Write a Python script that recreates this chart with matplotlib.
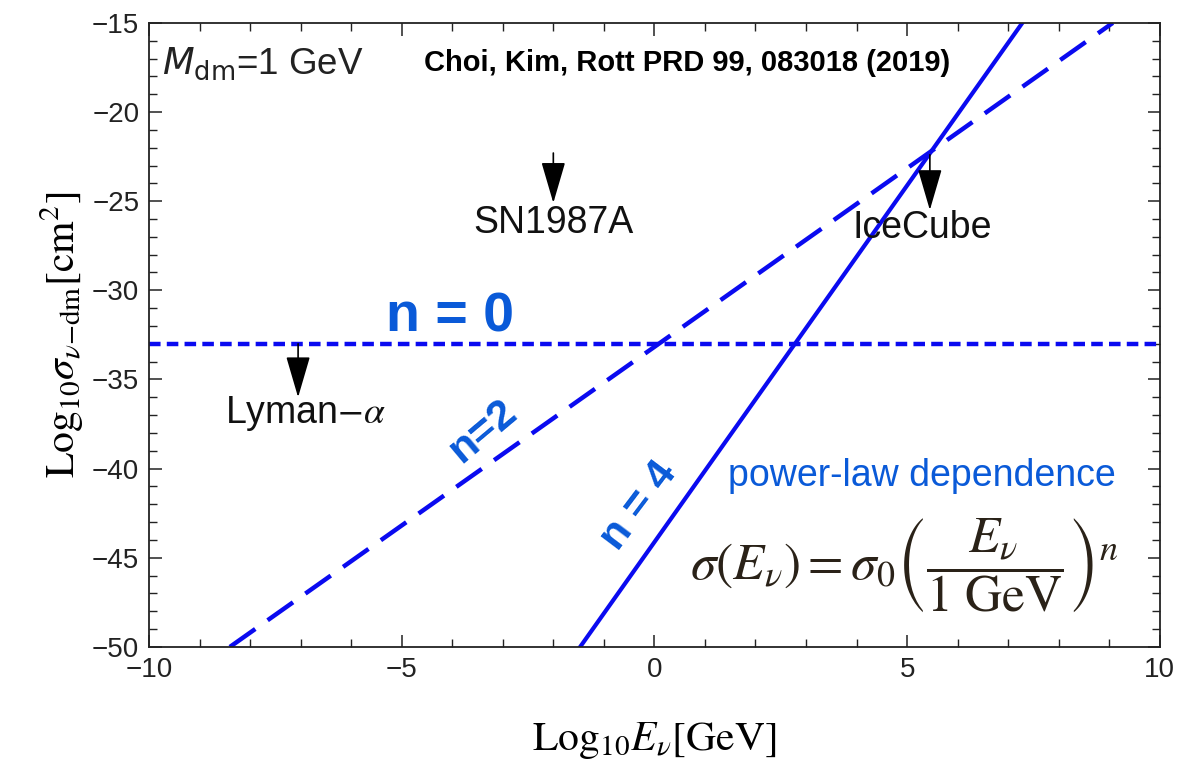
import numpy as np
import matplotlib
matplotlib.use('Agg')
import matplotlib.pyplot as plt
from matplotlib.ticker import MultipleLocator

plt.rcParams['font.family'] = ['Liberation Sans', 'DejaVu Sans']
plt.rcParams['mathtext.fontset'] = 'stix'

# log10 E [GeV] / log10 sigma [cm^2] end points of the three power laws
n0_logE = [-10.0, 10.0]
n0_logsig = [-33.0, -33.0]
n2_logE = [-8.4, 9.07]
n2_logsig = [-50.0, -15.0]
n4_logE = [-1.47, 7.28]
n4_logsig = [-50.0, -15.0]

# upper limits from observations: name, log10 E, arrow start, arrow tip, label y
limit_names = ['SN1987A', 'IceCube', 'Lyman$-\\alpha$']
limit_logE = [-2.0, 5.45, -7.05]
limit_top = [-22.3, -22.4, -33.0]
limit_tip = [-25.1, -25.5, -36.0]
limit_label_y = [-26.2, -26.5, -36.9]
limit_label_x = [-2.0, 5.3, -6.9]

fig = plt.figure(figsize=(11.92, 7.62), dpi=100)
ax = fig.add_axes([0.125, 0.151, 0.848, 0.819])

line_blue = '#0a0af0'
text_blue = '#0a5ad8'

ax.plot(n0_logE, n0_logsig, color=line_blue, lw=3.2, dashes=(2.6, 1.4), solid_capstyle='butt')
ax.plot(n2_logE, n2_logsig, color=line_blue, lw=3.2, dashes=(7, 3.4))
ax.plot(n4_logE, n4_logsig, color=line_blue, lw=3.0)

for name, x, y0, y1, ly, lx in zip(limit_names, limit_logE, limit_top, limit_tip,
                                  limit_label_y, limit_label_x):
    ax.annotate('', xy=(x, y1), xytext=(x, y0),
                arrowprops=dict(arrowstyle='-|>,head_length=1.3,head_width=0.38',
                                mutation_scale=20, color='black', lw=1.2,
                                shrinkA=0, shrinkB=0))
    ax.text(lx, ly, name, ha='center', va='center', fontsize=27, color='#111111')

ax.text(0.013, 0.935, '$\\mathit{M}_{\\mathrm{dm}}$=1 GeV', transform=ax.transAxes,
        ha='left', va='center', fontsize=26.5, color='#222222',
        math_fontfamily='dejavusans')
ax.text(0.532, 0.935, 'Choi, Kim, Rott PRD 99, 083018 (2019)', transform=ax.transAxes,
        ha='center', va='center', fontsize=21, fontweight='bold', color='black')

ax.text(-4.05, -31.5, 'n = 0', ha='center', va='center', fontsize=40,
        fontweight='bold', color=text_blue)
ax.text(-3.4, -37.9, 'n=2', ha='center', va='center', fontsize=31,
        fontweight='bold', color=text_blue, rotation=40)
ax.text(-0.3, -42.1, 'n = 4', ha='center', va='center', fontsize=31,
        fontweight='bold', color=text_blue, rotation=53)

ax.text(1.45, -40.4, 'power-law dependence', ha='left', va='center', fontsize=27,
        color=text_blue)
ax.text(4.95, -45.4,
        r'$\sigma(E_\nu) = \sigma_0\left(\dfrac{E_\nu}{1\ \mathrm{GeV}}\right)^n$',
        ha='center', va='center', fontsize=37, color='#2a2218')

ax.set_xlim(-10, 10)
ax.set_ylim(-50, -15)
ax.xaxis.set_major_locator(MultipleLocator(5))
ax.xaxis.set_minor_locator(MultipleLocator(1))
ax.yaxis.set_major_locator(MultipleLocator(5))
ax.yaxis.set_minor_locator(MultipleLocator(1))
ax.tick_params(which='both', direction='in', top=True, right=True, color='#222222',
               labelsize=20, labelcolor='#222222', pad=7)
ax.tick_params(which='major', length=9, width=1.1)
ax.tick_params(which='minor', length=5.5, width=1.0)
for s in ax.spines.values():
    s.set_linewidth(1.3)
    s.set_color('#222222')

ax.set_xlabel(r'$\mathrm{Log}_{10}E_\nu[\mathrm{GeV}]$', fontsize=30, labelpad=27)
ax.set_ylabel(r'$\mathrm{Log}_{10}\sigma_{\nu\mathrm{-dm}}[\mathrm{cm}^2]$',
              fontsize=30, labelpad=4)

fig.savefig('out.png', dpi=100)
